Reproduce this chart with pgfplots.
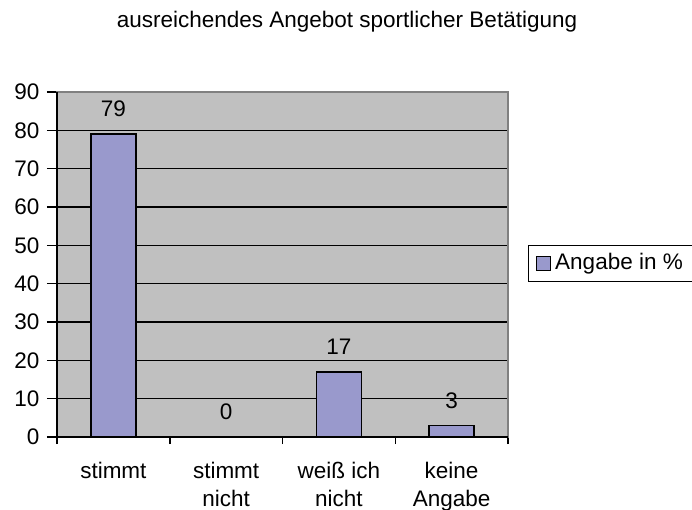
\documentclass[border=0pt]{standalone}
\usepackage{pgfplots}
\pgfplotsset{compat=1.18}
\usepackage{fontspec}
\setmainfont{Liberation Sans}
\definecolor{barfill}{RGB}{153,153,204}
\definecolor{plotbg}{RGB}{192,192,192}
\definecolor{bordergray}{RGB}{128,128,128}
\newcommand{\chartfont}{\fontsize{22.5bp}{28bp}\selectfont}
\begin{document}
\chartfont
\begin{tikzpicture}
\useasboundingbox (0,0) rectangle (692bp,510bp);
\node[anchor=base] at (347bp,482bp) {ausreichendes Angebot sportlicher Betätigung};
\begin{axis}[
  at={(57bp,73bp)}, anchor=south west,
  scale only axis, width=451bp, height=345bp,
  xmin=0.5, xmax=4.5, ymin=0, ymax=90,
  ytick={0,10,...,90},
  xtick={1,2,3,4},
  xticklabels={stimmt, {stimmt\\nicht}, {weiß ich\\nicht}, {keine\\Angabe}},
  minor xtick={0.5,1.5,2.5,3.5,4.5},
  major x tick style={draw=none},
  tick align=outside,
  major tick length=10bp, minor tick length=7bp,
  tick style={black, line width=1.5bp},
  xtick pos=bottom, ytick pos=left,
  ymajorgrids, grid style={black, line width=1.5bp},
  axis line style={draw=bordergray, line width=2bp},
  axis background/.style={fill=plotbg},
  xticklabel style={align=center, font=\chartfont, yshift=-7bp},
  yticklabel style={font=\chartfont},
  /pgf/number format/assume math mode=true,
  ybar, bar width=0.4,
  nodes near coords,
  every node near coord/.append style={anchor=center, yshift=25bp, font=\chartfont},
  legend style={at={(1.0443,0.503)}, anchor=west, draw=black, line width=1.5bp, fill=white,
    font=\chartfont, inner xsep=7bp, inner ysep=4bp,
    legend cell align=left,
    nodes={inner xsep=4bp, inner ysep=4bp}},
  legend image code/.code={\draw[#1, draw=black, line width=1.5bp] (0bp,-7bp) rectangle (14bp,7bp);},
  clip=false,
]
\addplot[fill=barfill, draw=black, line width=1.5bp] coordinates {(1,79) (2,0) (3,17) (4,3)};
\addlegendentry{Angabe in \%}
\draw[black, line width=2bp] (rel axis cs:0,1) -- (rel axis cs:0,0) -- (rel axis cs:1,0);
\end{axis}
\end{tikzpicture}
\end{document}
